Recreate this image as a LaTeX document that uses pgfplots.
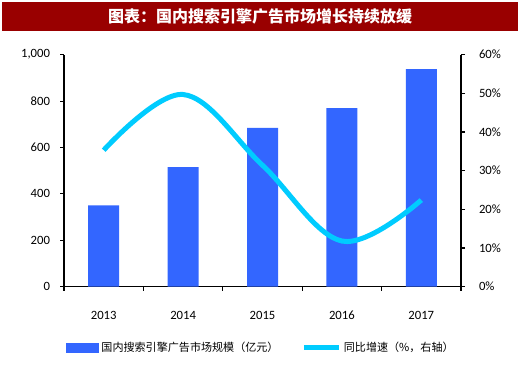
\documentclass[border=0pt]{standalone}
\usepackage{pgfplots}
\pgfplotsset{compat=1.18}
\usepackage{fontspec}
\setmainfont{Carlito}
\newfontfamily\cjk{Noto Sans CJK SC}
\definecolor{barblue}{HTML}{3366FF}
\definecolor{linecyan}{HTML}{00CCFF}
\definecolor{titlered}{HTML}{990000}
\pgfplotsset{
  common/.style={
    at={(48pt,64pt)}, anchor=south west,
    scale only axis, width=297.75pt, height=174pt,
    xmin=-0.5, xmax=4.5,
    axis line style={-, black, line width=0.8pt},
    tick style={black, line width=0.8pt},
    tick align=outside, major tick length=3pt,
    ticklabel style={font=\fontsize{9.5}{11}\selectfont},
    /pgf/number format/assume math mode=true,
  }
}
\begin{document}
\begin{tikzpicture}
\fill[white] (0pt,0pt) rectangle (390pt,279pt);
\fill[titlered] (1.5pt,255.75pt) rectangle (388.5pt,277.5pt);
\node[text=white, font=\cjk\bfseries\fontsize{12}{14}\selectfont] at (195pt,266.6pt) {图表：国内搜索引擎广告市场增长持续放缓};
\begin{axis}[common,
  ymin=0, ymax=1000,
  axis x line*=bottom, axis y line*=left,
  xtick={-0.5,0.5,1.5,2.5,3.5,4.5},
  x tick label as interval,
  xticklabels={2013,2014,2015,2016,2017},
  xticklabel style={yshift=-12pt},
  ytick={0,200,400,600,800,1000},
  yticklabel style={/pgf/number format/1000 sep={,}, xshift=-4pt},
]
\addplot[ybar, bar width=23.25pt, fill=barblue, draw=none] coordinates {(0,350) (1,515) (2,684) (3,770) (4,938)};
\end{axis}
\begin{axis}[common,
  ymin=0, ymax=60,
  axis x line=none, axis y line*=right,
  ytick={0,10,20,30,40,50,60},
  yticklabel={\pgfmathprintnumber{\tick}\%},
  yticklabel style={xshift=7pt},
  legend style={at={(axis description cs:0.497,-0.263)}, anchor=center, draw=none, fill=none,
    legend columns=2, font=\cjk\fontsize{8.3}{10}\selectfont,
    /tikz/every even column/.append style={column sep=15pt}},
]
\addlegendimage{legend image code/.code={\fill[barblue] (0pt,-3.4pt) rectangle (24pt,3.4pt);}}
\addlegendentry{国内搜索引擎广告市场规模（亿元）}
\addplot[linecyan, line width=3.75pt, smooth, tension=0.6,
  legend image code/.code={\draw[linecyan, line width=4pt] (0pt,0pt) -- (26pt,0pt);}]
  coordinates {(0,35.3) (1,49.7) (2,31.4) (3,11.8) (4,22.4)};
\addlegendentry{同比增速（\%，右轴）}
\end{axis}
\end{tikzpicture}
\end{document}
